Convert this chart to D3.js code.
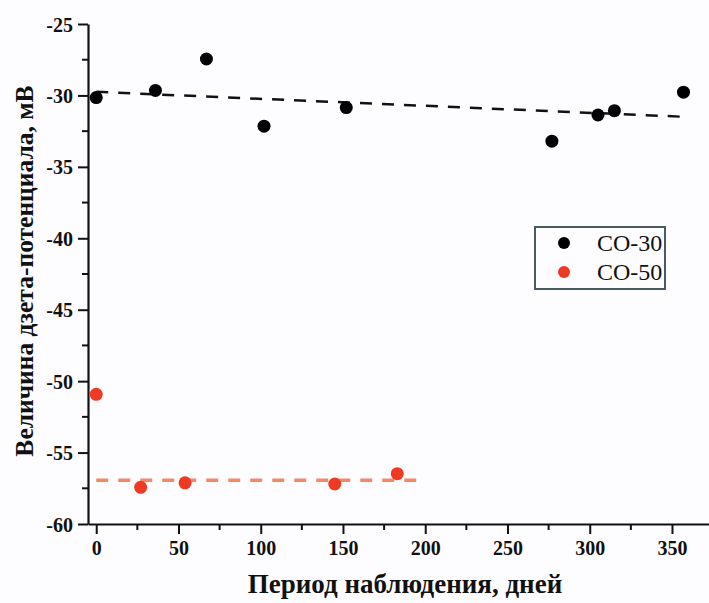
<!DOCTYPE html>
<html><head><meta charset="utf-8">
<script src="https://cdn.jsdelivr.net/npm/d3@7"></script>
<style>body{margin:0;background:#fdfdff}svg{display:block}
.tick text{font-family:"Liberation Serif","Times New Roman",serif !important;font-weight:bold;font-size:20px}</style>
</head><body>
<svg id="c" width="709" height="603"></svg>
<script>
const co30Days = [0, 36, 67, 102, 152, 277, 305, 315, 357];
const co30Zeta = [-30.15, -29.65, -27.45, -32.15, -30.85, -33.2, -31.37, -31.07, -29.77];
const co50Days = [0, 27, 54, 145, 183];
const co50Zeta = [-50.92, -57.43, -57.12, -57.2, -56.48];
const co30TrendDays = [0, 358];
const co30TrendZeta = [-29.75, -31.5];
const co50TrendDays = [0, 196];
const co50TrendZeta = [-56.93, -56.93];
const xTicks = [0, 50, 100, 150, 200, 250, 300, 350];
const yTicks = [-60, -55, -50, -45, -40, -35, -30, -25];
const seriesNames = ["CO-30", "CO-50"];

const svg = d3.select("#c");
const font = "Liberation Serif, Times New Roman, serif";
const x = d3.scaleLinear().domain([-5, 372.5]).range([88, 709]);
const y = d3.scaleLinear().domain([-60, -25]).range([524, 24]);

svg.append("rect").attr("width", 709).attr("height", 603).attr("fill", "#fdfdff");

// minor ticks
const xMinor = d3.range(25, 375, 50);
const yMinor = d3.range(-57.5, -25, 5);
svg.append("g").selectAll("line").data(xMinor).join("line")
  .attr("x1", d => x(d)).attr("x2", d => x(d)).attr("y1", 524).attr("y2", 530)
  .attr("stroke", "#111").attr("stroke-width", 2);
svg.append("g").selectAll("line").data(yMinor).join("line")
  .attr("y1", d => y(d)).attr("y2", d => y(d)).attr("x1", 88).attr("x2", 82)
  .attr("stroke", "#111").attr("stroke-width", 2);

const fmt = d => String(d);
const xAxis = svg.append("g").attr("transform", "translate(0,524)")
  .call(d3.axisBottom(x).tickValues(xTicks).tickFormat(fmt).tickSize(10).tickSizeOuter(0).tickPadding(6));
const yAxis = svg.append("g").attr("transform", "translate(88,0)")
  .call(d3.axisLeft(y).tickValues(yTicks).tickFormat(fmt).tickSize(10).tickSizeOuter(0).tickPadding(5));
[xAxis, yAxis].forEach(g => {
  g.attr("font-family", font).attr("font-size", 20).attr("font-weight", "bold");
  g.select(".domain").attr("stroke", "#111").attr("stroke-width", 2.2);
  g.selectAll(".tick line").attr("stroke", "#111").attr("stroke-width", 2);
  g.selectAll("text").attr("fill", "#111");
});
xAxis.selectAll("text").attr("dy", "0.75em");
yAxis.selectAll("text").attr("dy", "0.35em");

// trend lines
const line = d3.line().x(d => x(d[0])).y(d => y(d[1]));
svg.append("path").datum(co30TrendDays.map((d, i) => [d, co30TrendZeta[i]]))
  .attr("d", line).attr("fill", "none").attr("stroke", "#111").attr("stroke-width", 2.5)
  .attr("stroke-dasharray", "12,10");
svg.append("path").datum(co50TrendDays.map((d, i) => [d, co50TrendZeta[i]]))
  .attr("d", line).attr("fill", "none").attr("stroke", "#f4896a").attr("stroke-width", 3.5)
  .attr("stroke-dasharray", "12,10");

// points
svg.append("g").selectAll("circle").data(co30Days.map((d, i) => [d, co30Zeta[i]])).join("circle")
  .attr("cx", d => x(d[0])).attr("cy", d => y(d[1])).attr("r", 6.5).attr("fill", "#000");
svg.append("g").selectAll("circle").data(co50Days.map((d, i) => [d, co50Zeta[i]])).join("circle")
  .attr("cx", d => x(d[0])).attr("cy", d => y(d[1])).attr("r", 6.5).attr("fill", "#ee3a22");

// legend
svg.append("rect").attr("x", 535).attr("y", 227).attr("width", 130).attr("height", 62)
  .attr("fill", "none").attr("stroke", "#4a5a62").attr("stroke-width", 2);
const legColors = ["#000", "#ee3a22"];
seriesNames.forEach((n, i) => {
  svg.append("circle").attr("cx", 564).attr("cy", 243 + i * 29).attr("r", 6).attr("fill", legColors[i]);
  svg.append("text").attr("x", 597).attr("y", 251 + i * 29).text(n)
    .attr("font-family", font).attr("font-size", 24).attr("fill", "#111");
});

// axis titles
svg.append("text").attr("x", 405).attr("y", 593).attr("text-anchor", "middle")
  .attr("font-family", font).attr("font-weight", "bold").attr("font-size", 27).attr("fill", "#111")
  .text("Период наблюдения, дней");
svg.append("text").attr("transform", "translate(33,271) rotate(-90)").attr("text-anchor", "middle")
  .attr("font-family", font).attr("font-weight", "bold").attr("font-size", 25.5).attr("fill", "#111")
  .text("Величина дзета-потенциала, мВ");
</script>
</body></html>
